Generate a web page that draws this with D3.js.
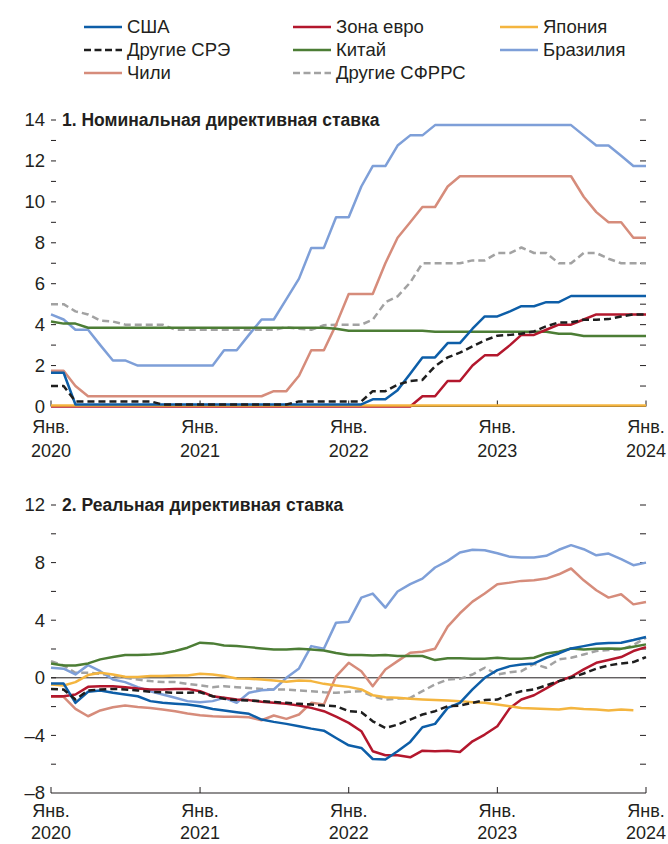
<!DOCTYPE html>
<html>

<head>
  <title>Директивные ставки</title>
  <meta charset="utf-8">
  <script src="https://d3js.org/d3.v7.min.js"></script>
  <style>
    body { margin: 0; background: #fff; }
    svg text { font-family: "Liberation Sans", Arial, sans-serif; fill: #231f20; }
  </style>
</head>

<body>
  <div id="chart"></div>

  <script>
    // months Jan 2020 .. Jan 2024
    var startDate = new Date(2020, 0, 1),
      endDate = new Date(2024, 0, 1);
    var yearTicks = ["2020", "2021", "2022", "2023", "2024"];
    var monthLabel = "Янв.";

    var seriesNames = ["США", "Зона евро", "Япония", "Другие СРЭ", "Китай", "Бразилия", "Чили", "Другие СФРРС"];

    // 1. nominal policy rate
    var usNom = [1.65, 1.65, 0.1, 0.1, 0.1, 0.1, 0.1, 0.1, 0.1, 0.1, 0.1, 0.1,
      0.1, 0.1, 0.1, 0.1, 0.1, 0.1, 0.1, 0.1, 0.1, 0.1, 0.1, 0.1,
      0.1, 0.1, 0.35, 0.35, 0.8, 1.6, 2.4, 2.4, 3.1, 3.1, 3.8, 4.4,
      4.4, 4.65, 4.9, 4.9, 5.1, 5.1, 5.4, 5.4, 5.4, 5.4, 5.4, 5.4,
      5.4];
    var euroNom = [0, 0, 0, 0, 0, 0, 0, 0, 0, 0, 0, 0,
      0, 0, 0, 0, 0, 0, 0, 0, 0, 0, 0, 0,
      0, 0, 0, 0, 0, 0, 0.5, 0.5, 1.25, 1.25, 2.0, 2.5,
      2.5, 3.0, 3.5, 3.5, 3.75, 4.0, 4.0, 4.25, 4.5, 4.5, 4.5, 4.5,
      4.5];
    var japanNom = [0.05, 0.05, 0.05, 0.05, 0.05, 0.05, 0.05, 0.05, 0.05, 0.05, 0.05, 0.05,
      0.05, 0.05, 0.05, 0.05, 0.05, 0.05, 0.05, 0.05, 0.05, 0.05, 0.05, 0.05,
      0.05, 0.05, 0.05, 0.05, 0.05, 0.05, 0.05, 0.05, 0.05, 0.05, 0.05, 0.05,
      0.05, 0.05, 0.05, 0.05, 0.05, 0.05, 0.05, 0.05, 0.05, 0.05, 0.05, 0.05,
      0.05];
    var emNom = [1.0, 1.0, 0.25, 0.25, 0.25, 0.25, 0.25, 0.25, 0.25, 0.1, 0.1, 0.1,
      0.1, 0.1, 0.1, 0.1, 0.1, 0.1, 0.1, 0.1, 0.25, 0.25, 0.25, 0.25,
      0.25, 0.25, 0.75, 0.75, 1.07, 1.25, 1.3, 1.97, 2.4, 2.63, 2.94, 3.23,
      3.46, 3.5, 3.56, 3.67, 3.92, 4.11, 4.11, 4.24, 4.24, 4.27, 4.4, 4.5,
      4.5];
    var chinaNom = [4.15, 4.05, 4.05, 3.85, 3.85, 3.85, 3.85, 3.85, 3.85, 3.85, 3.85, 3.85,
      3.85, 3.85, 3.85, 3.85, 3.85, 3.85, 3.85, 3.85, 3.85, 3.85, 3.85, 3.8,
      3.7, 3.7, 3.7, 3.7, 3.7, 3.7, 3.7, 3.65, 3.65, 3.65, 3.65, 3.65,
      3.65, 3.65, 3.65, 3.65, 3.65, 3.55, 3.55, 3.45, 3.45, 3.45, 3.45, 3.45,
      3.45];
    var brazilNom = [4.5, 4.25, 3.75, 3.75, 3.0, 2.25, 2.25, 2.0, 2.0, 2.0, 2.0, 2.0,
      2.0, 2.0, 2.75, 2.75, 3.5, 4.25, 4.25, 5.25, 6.25, 7.75, 7.75, 9.25,
      9.25, 10.75, 11.75, 11.75, 12.75, 13.25, 13.25, 13.75, 13.75, 13.75, 13.75, 13.75,
      13.75, 13.75, 13.75, 13.75, 13.75, 13.75, 13.75, 13.25, 12.75, 12.75, 12.25, 11.75,
      11.75];
    var chileNom = [1.75, 1.75, 1.0, 0.5, 0.5, 0.5, 0.5, 0.5, 0.5, 0.5, 0.5, 0.5,
      0.5, 0.5, 0.5, 0.5, 0.5, 0.5, 0.75, 0.75, 1.5, 2.75, 2.75, 4.0,
      5.5, 5.5, 5.5, 7.0, 8.25, 9.0, 9.75, 9.75, 10.75, 11.25, 11.25, 11.25,
      11.25, 11.25, 11.25, 11.25, 11.25, 11.25, 11.25, 10.25, 9.5, 9.0, 9.0, 8.25,
      8.25];
    var otherNom = [5.0, 5.0, 4.65, 4.5, 4.2, 4.15, 4.0, 4.0, 4.0, 4.0, 3.75, 3.75,
      3.75, 3.75, 3.75, 3.75, 3.75, 3.75, 3.75, 3.87, 3.8, 3.75, 3.97, 4.0,
      4.0, 4.0, 4.24, 5.09, 5.38, 6.06, 7.0, 7.0, 7.0, 7.0, 7.14, 7.14,
      7.5, 7.5, 7.77, 7.5, 7.5, 7.0, 7.0, 7.5, 7.5, 7.22, 7.0, 7.0,
      7.0];

    // 2. real policy rate
    var usReal = [-0.4, -0.4, -1.74, -0.97, -0.88, -1.04, -1.16, -1.28, -1.62, -1.74, -1.81, -1.86,
      -1.97, -2.16, -2.27, -2.39, -2.5, -2.9, -3.06, -3.2, -3.36, -3.53, -3.67, -4.18,
      -4.69, -4.87, -5.64, -5.68, -5.1, -4.45, -3.43, -3.2, -2.09, -1.74, -0.81, 0,
      0.53, 0.81, 0.93, 1.0, 1.39, 1.69, 2.04, 2.2, 2.37, 2.41, 2.44, 2.62,
      2.83];
    var euroReal = [-1.28, -1.28, -1.16, -0.63, -0.58, -0.58, -0.65, -0.74, -0.81, -0.81, -0.77, -0.77,
      -0.93, -1.28, -1.39, -1.51, -1.55, -1.67, -1.74, -1.81, -1.93, -2.09, -2.32, -2.7,
      -3.13, -3.71, -5.1, -5.38, -5.38, -5.52, -5.06, -5.1, -5.06, -5.15, -4.41, -3.94,
      -3.36, -2.09, -1.51, -1.21, -0.74, -0.23, 0.07, 0.58, 1.04, 1.23, 1.44, 1.86,
      2.13];
    var japanReal = [-0.46, -0.53, -0.3, 0.19, 0.35, 0.23, 0.07, 0.05, 0.12, 0.12, 0.16, 0.16,
      0.28, 0.23, 0.12, -0.05, -0.07, -0.12, -0.19, -0.28, -0.19, -0.23, -0.42, -0.53,
      -0.63, -0.81, -1.21, -1.35, -1.39, -1.46, -1.51, -1.55, -1.58, -1.62, -1.69, -1.74,
      -1.86, -1.97, -2.09, -2.13, -2.16, -2.2, -2.09, -2.16, -2.2, -2.27, -2.2, -2.25,
      null];
    var emReal = [-0.77, -0.81, -1.51, -0.88, -0.81, -0.77, -0.81, -0.88, -0.97, -1.0, -1.04, -1.04,
      -1.0, -1.28, -1.46, -1.55, -1.58, -1.62, -1.67, -1.74, -1.81, -1.86, -1.93, -1.97,
      -2.32, -2.39, -3.02, -3.48, -3.25, -2.9, -2.55, -2.32, -1.97, -1.93, -1.74, -1.55,
      -1.51, -1.16, -0.93, -0.81, -0.53, -0.23, 0, 0.3, 0.63, 0.86, 1.0, 1.09,
      1.44];
    var chinaReal = [1.0, 0.86, 0.86, 1.0, 1.28, 1.44, 1.58, 1.58, 1.62, 1.69, 1.86, 2.09,
      2.44, 2.39, 2.25, 2.2, 2.13, 2.04, 1.97, 1.97, 2.02, 1.97, 1.9, 1.72,
      1.58, 1.58, 1.55, 1.58, 1.51, 1.51, 1.51, 1.23, 1.35, 1.35, 1.32, 1.32,
      1.39, 1.32, 1.32, 1.39, 1.69, 1.81, 2.04, 1.97, 2.02, 2.04, 2.02, 2.16,
      2.32];
    var brazilReal = [0.7, 0.63, 0.23, 0.88, 0.46, -0.12, -0.3, -0.65, -0.93, -1.16, -1.39, -1.62,
      -1.69, -1.62, -1.39, -1.74, -1.04, -0.86, -0.81, 0, 0.65, 2.2, 2.02, 3.83,
      3.9, 5.57, 5.85, 4.87, 5.99, 6.5, 6.89, 7.66, 8.12, 8.7, 8.89, 8.86,
      8.65, 8.4, 8.35, 8.35, 8.47, 8.89, 9.21, 8.93, 8.51, 8.63, 8.24, 7.82,
      8.0];
    var chileReal = [-1.32, -1.32, -2.16, -2.67, -2.27, -2.04, -1.93, -2.02, -2.09, -2.2, -2.32, -2.48,
      -2.6, -2.67, -2.71, -2.71, -2.74, -2.95, -2.62, -2.85, -2.55, -1.74, -1.86, 0.1,
      1.04, 0.46, -0.58, 0.58, 1.16, 1.74, 1.81, 2.02, 3.55, 4.48, 5.29, 5.85,
      6.5, 6.61, 6.73, 6.77, 6.89, 7.19, 7.59, 6.77, 6.08, 5.57, 5.8, 5.1,
      5.27];
    var otherReal = [1.16, 0.86, 0.35, 0.35, 0.28, 0.16, 0, -0.12, -0.23, -0.3, -0.3, -0.42,
      -0.53, -0.65, -0.58, -0.65, -0.7, -0.77, -0.81, -0.81, -0.88, -0.93, -1.0, -1.04,
      -0.97, -0.93, -1.28, -1.51, -1.44, -1.39, -0.93, -0.46, -0.12, -0.07, 0.23, 0.7,
      0.23, 0.39, 0.46, 0.97, 0.7, 1.28, 1.39, 1.62, 1.86, 1.93, 1.97, 2.27,
      2.78];

    var nomTicks = [0, 1, 2, 3, 4, 5, 6, 7, 8, 9, 10, 11, 12, 13, 14];
    var realTicks = [-8, -6, -4, -2, 0, 2, 4, 6, 8, 10, 12];

    var styles = {
      "США": { color: "#0d5ea8", dash: null },
      "Зона евро": { color: "#b3172d", dash: null },
      "Япония": { color: "#f4b53f", dash: null },
      "Другие СРЭ": { color: "#1e1e1e", dash: "7,4" },
      "Китай": { color: "#4c7d35", dash: null },
      "Бразилия": { color: "#7e9fd8", dash: null },
      "Чили": { color: "#d68c7b", dash: null },
      "Другие СФРРС": { color: "#a2a2a2", dash: "7,4" }
    };
    // drawing order (bottom first)
    var drawOrder = ["Другие СФРРС", "Бразилия", "Чили", "Китай", "Зона евро", "Япония", "США", "Другие СРЭ"];

    var months = d3.timeMonth.range(startDate, d3.timeMonth.offset(endDate, 1));

    var width = 668, height = 844;
    var svg = d3.select("#chart").append("svg")
      .attr("width", width)
      .attr("height", height);

    var x = d3.scaleTime().domain([startDate, endDate]).range([51, 646]);

    // legend
    var legendCols = [84, 293, 500],
      legendRows = [27, 50, 73];
    seriesNames.forEach(function(name, i) {
      var lx = legendCols[i % 3],
        ly = legendRows[Math.floor(i / 3)];
      svg.append("line")
        .attr("x1", lx).attr("x2", lx + 38)
        .attr("y1", ly).attr("y2", ly)
        .attr("stroke", styles[name].color)
        .attr("stroke-width", 2.5)
        .attr("stroke-dasharray", styles[name].dash ? "7,3.5" : null);
      svg.append("text")
        .attr("x", lx + 43).attr("y", ly)
        .attr("dy", "0.35em")
        .style("font-size", "18.5px")
        .text(name);
    });

    function drawPanel(cfg) {
      var y = d3.scaleLinear().domain(cfg.domain).range(cfg.range);
      var g = svg.append("g");

      // y ticks, both sides, pointing inward
      cfg.ticks.forEach(function(t) {
        if (t !== cfg.domain[0]) {
          g.append("line").attr("x1", 51).attr("x2", 56)
            .attr("y1", y(t)).attr("y2", y(t)).attr("stroke", "#231f20");
          g.append("line").attr("x1", 640).attr("x2", 646)
            .attr("y1", y(t)).attr("y2", y(t)).attr("stroke", "#231f20");
        }
        if (cfg.labelled.indexOf(t) >= 0) {
          g.append("text")
            .attr("x", 45).attr("y", y(t))
            .attr("dy", "0.35em")
            .attr("text-anchor", "end")
            .style("font-size", "18.5px")
            .text(t < 0 ? "–" + Math.abs(t) : t);
        }
      });

      g.append("text")
        .attr("x", 62).attr("y", y(cfg.domain[1]))
        .attr("dy", "0.35em")
        .style("font-size", "17.5px")
        .style("font-weight", "bold")
        .text(cfg.title);

      if (cfg.zeroLine) {
        g.append("line").attr("x1", 51).attr("x2", 646)
          .attr("y1", y(0)).attr("y2", y(0))
          .attr("stroke", "#231f20").attr("stroke-width", 1);
      }

      // x axis
      var axisY = y(cfg.axisAt);
      g.append("line").attr("x1", 51).attr("x2", 646)
        .attr("y1", axisY).attr("y2", axisY)
        .attr("stroke", "#231f20").attr("stroke-width", 1.2);
      yearTicks.forEach(function(yr) {
        var tx = x(new Date(+yr, 0, 1));
        g.append("line").attr("x1", tx).attr("x2", tx)
          .attr("y1", axisY).attr("y2", axisY - 6)
          .attr("stroke", "#231f20");
        g.append("text").attr("x", tx).attr("y", cfg.labelY)
          .attr("dy", "0.35em").attr("text-anchor", "middle")
          .style("font-size", "18px").text(monthLabel);
        g.append("text").attr("x", tx).attr("y", cfg.labelY + cfg.yearGap)
          .attr("dy", "0.35em").attr("text-anchor", "middle")
          .style("font-size", "18px").text(yr);
      });

      var line = d3.line()
        .defined(function(d) { return d.v !== null; })
        .x(function(d) { return x(d.date); })
        .y(function(d) { return y(d.v); });

      drawOrder.forEach(function(name) {
        var vals = cfg.data[name];
        var pts = months.map(function(m, i) { return { date: m, v: vals[i] }; });
        g.append("path")
          .datum(pts)
          .attr("d", line)
          .attr("fill", "none")
          .attr("stroke", styles[name].color)
          .attr("stroke-width", 2.5)
          .attr("stroke-linejoin", "round")
          .attr("stroke-dasharray", styles[name].dash);
      });
    }

    drawPanel({
      title: "1. Номинальная директивная ставка",
      domain: [0, 14], range: [406.5, 120],
      ticks: nomTicks, labelled: [0, 2, 4, 6, 8, 10, 12, 14],
      axisAt: 0, zeroLine: false, labelY: 427, yearGap: 24,
      data: {
        "США": usNom, "Зона евро": euroNom, "Япония": japanNom, "Другие СРЭ": emNom,
        "Китай": chinaNom, "Бразилия": brazilNom, "Чили": chileNom, "Другие СФРРС": otherNom
      }
    });

    drawPanel({
      title: "2. Реальная директивная ставка",
      domain: [-8, 12], range: [793, 505],
      ticks: realTicks, labelled: [-8, -4, 0, 4, 8, 12],
      axisAt: -8, zeroLine: true, labelY: 811, yearGap: 22,
      data: {
        "США": usReal, "Зона евро": euroReal, "Япония": japanReal, "Другие СРЭ": emReal,
        "Китай": chinaReal, "Бразилия": brazilReal, "Чили": chileReal, "Другие СФРРС": otherReal
      }
    });
  </script>
</body>
</html>
